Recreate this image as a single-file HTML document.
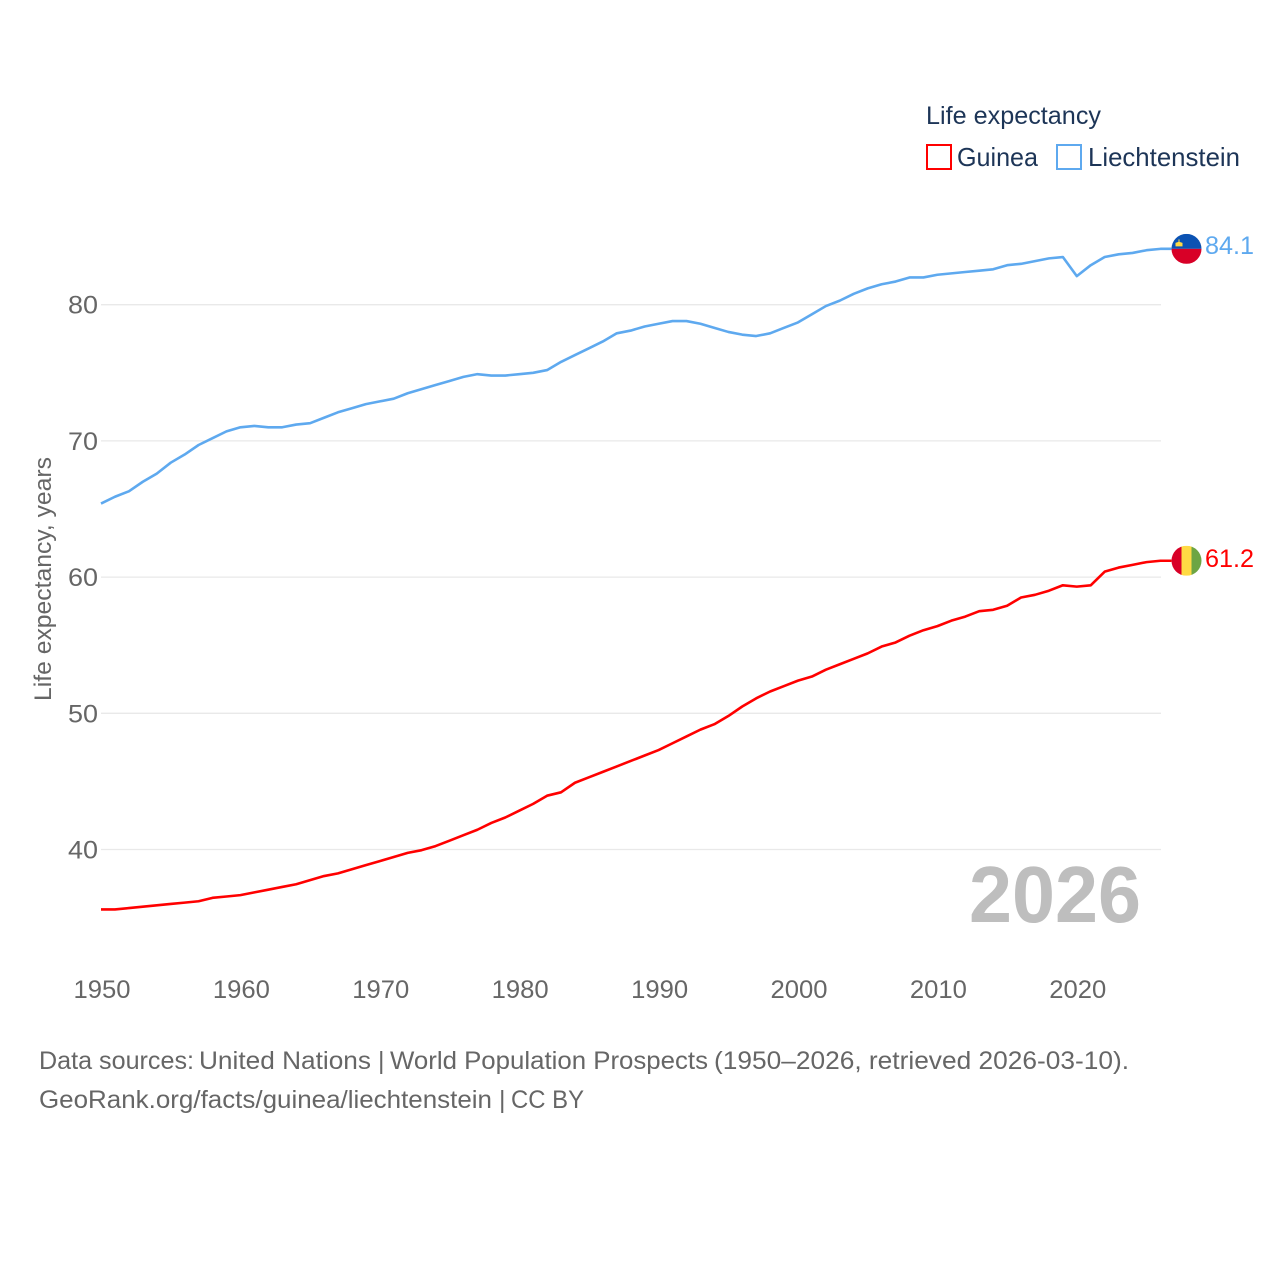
<!DOCTYPE html>
<html lang="en">
<head>
<meta charset="utf-8">
<title>Life expectancy: Guinea and Liechtenstein</title>
<style>
html,body{margin:0;padding:0;background:#fff;}
svg{display:block;}
text{font-family:"Liberation Sans",sans-serif;}
</style>
</head>
<body>
<svg id="chart" xmlns="http://www.w3.org/2000/svg" width="1280" height="1280" viewBox="0 0 1280 1280">
  <rect width="1280" height="1280" fill="#fff"/>
  <defs>
    <clipPath id="flag-clip"><circle cx="0" cy="0" r="15"/></clipPath>
  </defs>
  <g id="grid"></g>
  <g id="y-ticks"></g>
  <g id="x-ticks"></g>
  <text transform="translate(51,701) rotate(-90)" font-size="24" fill="#666" textLength="244" lengthAdjust="spacingAndGlyphs">Life expectancy, years</text>
  <g id="series"></g>
  <g id="end-markers"></g>
  <text x="969" y="922" font-size="80" font-weight="700" fill="#bebebe" textLength="172" lengthAdjust="spacingAndGlyphs">2026</text>
  <g>
    <text x="926" y="124" font-size="25" fill="#1d3557" textLength="175" lengthAdjust="spacingAndGlyphs">Life expectancy</text>
    <rect x="927" y="145" width="24" height="24" fill="none" stroke="#ff0000" stroke-width="2"/>
    <text x="957" y="166" font-size="26" fill="#1d3557" textLength="81" lengthAdjust="spacingAndGlyphs">Guinea</text>
    <rect x="1057" y="145" width="24" height="24" fill="none" stroke="#5ea9ef" stroke-width="2"/>
    <text x="1088" y="166" font-size="26" fill="#1d3557" textLength="152" lengthAdjust="spacingAndGlyphs">Liechtenstein</text>
  </g>
  <text y="1069" font-size="25" fill="#666"><tspan x="39" textLength="155" lengthAdjust="spacingAndGlyphs">Data sources:</tspan> <tspan x="199" textLength="172" lengthAdjust="spacingAndGlyphs">United Nations</tspan> <tspan x="378">|</tspan> <tspan x="390" textLength="318" lengthAdjust="spacingAndGlyphs">World Population Prospects</tspan> <tspan x="714" textLength="415" lengthAdjust="spacingAndGlyphs">(1950–2026, retrieved 2026-03-10).</tspan></text>
  <text y="1108" font-size="25" fill="#666"><tspan x="39" textLength="453" lengthAdjust="spacingAndGlyphs">GeoRank.org/facts/guinea/liechtenstein</tspan> <tspan x="499">|</tspan> <tspan x="511" textLength="73" lengthAdjust="spacingAndGlyphs">CC BY</tspan></text>
</svg>
<script>
const startYear = 1950;
const xTickLabels = [1950, 1960, 1970, 1980, 1990, 2000, 2010, 2020];
const yTickLabels = [40, 50, 60, 70, 80];
const guineaValues = [35.6,35.6,35.7,35.8,35.9,36.0,36.1,36.2,36.45,36.55,36.65,36.85,37.05,37.25,37.45,37.75,38.05,38.25,38.55,38.85,39.15,39.45,39.75,39.95,40.25,40.65,41.05,41.45,41.95,42.35,42.85,43.35,43.95,44.2,44.9,45.3,45.7,46.1,46.5,46.9,47.3,47.8,48.3,48.8,49.2,49.8,50.5,51.1,51.6,52.0,52.4,52.7,53.2,53.6,54.0,54.4,54.9,55.2,55.7,56.1,56.4,56.8,57.1,57.5,57.6,57.9,58.5,58.7,59.0,59.4,59.3,59.4,60.4,60.7,60.9,61.1,61.2];
const liechtensteinValues = [65.4,65.9,66.3,67.0,67.6,68.4,69.0,69.7,70.2,70.7,71.0,71.1,71.0,71.0,71.2,71.3,71.7,72.1,72.4,72.7,72.9,73.1,73.5,73.8,74.1,74.4,74.7,74.9,74.8,74.8,74.9,75.0,75.2,75.8,76.3,76.8,77.3,77.9,78.1,78.4,78.6,78.8,78.8,78.6,78.3,78.0,77.8,77.7,77.9,78.3,78.7,79.3,79.9,80.3,80.8,81.2,81.5,81.7,82.0,82.0,82.2,82.3,82.4,82.5,82.6,82.9,83.0,83.2,83.4,83.5,82.1,82.9,83.5,83.7,83.8,84.0,84.1];

const NS = 'http://www.w3.org/2000/svg';
function xScale(year) { return 101 + (year - 1950) * 13.94; }
function yScale(value) { return 849.5 - (value - 40) * 13.62; }
function make(tag, attrs, parent) {
  const el = document.createElementNS(NS, tag);
  for (const k in attrs) el.setAttribute(k, attrs[k]);
  parent.appendChild(el);
  return el;
}

const gridGroup = document.getElementById('grid');
const yGroup = document.getElementById('y-ticks');
const xGroup = document.getElementById('x-ticks');
const seriesGroup = document.getElementById('series');
const markerGroup = document.getElementById('end-markers');

yTickLabels.forEach(function (v) {
  const line = make('line', {x1: 101, x2: 1161, y1: yScale(v), y2: yScale(v), stroke: '#e9e9e9', 'stroke-width': 1.3}, gridGroup);
  
  
  const label = make('text', {x: 98, y: yScale(v) + 9, 'text-anchor': 'end', 'font-size': 25, fill: '#666', textLength: 30, lengthAdjust: 'spacingAndGlyphs'}, yGroup);
  
  
  label.textContent = v;
});

xTickLabels.forEach(function (y) {
  const label = make('text', {x: xScale(y) + 1, y: 998, 'text-anchor': 'middle', 'font-size': 25, fill: '#666', textLength: 57, lengthAdjust: 'spacingAndGlyphs'}, xGroup);
  
  
  label.textContent = y;
});

function drawSeries(values, color, name) {
  const pts = values.map(function (v, i) { return xScale(startYear + i).toFixed(2) + ',' + yScale(v).toFixed(2); });
  const lastX = xScale(startYear + values.length - 1);
  const lastY = yScale(values[values.length - 1]);
  pts.push((lastX + 11).toFixed(2) + ',' + lastY.toFixed(2));
  const line = make('polyline', {points: pts.join(' '), fill: 'none', stroke: color, 'stroke-width': 2.6, 'stroke-linejoin': 'round'}, seriesGroup);
  
  
  return lastY;
}

function drawEndLabel(value, y, color, name) {
  const label = make('text', {x: 1205, y: y + 5, 'font-size': 25, fill: color, textLength: 49, lengthAdjust: 'spacingAndGlyphs'}, markerGroup);
  
  
  label.textContent = value.toFixed(1);
}

function flagGroup(y, name) {
  const g = make('g', {transform: 'translate(1186.5,' + y + ')', 'clip-path': 'url(#flag-clip)'}, markerGroup);
  
  
  return g;
}

const guineaY = drawSeries(guineaValues, '#ff0000', 'guinea');
const liechY = drawSeries(liechtensteinValues, '#5ea9ef', 'liechtenstein');

const liFlag = flagGroup(liechY, 'liechtenstein');
make('rect', {x: -15, y: -15, width: 30, height: 15, fill: '#0b52b3'}, liFlag);
make('rect', {x: -15, y: 0, width: 30, height: 15, fill: '#d80027'}, liFlag);
make('path', {d: 'M-11,-2.5 L-11,-6 L-9.5,-6.5 L-8,-7 L-8,-9.5 L-7,-9.5 L-7,-7 L-5.5,-6.5 L-4,-6 L-4,-2.5 Z', fill: '#ffda44'}, liFlag);

const guFlag = flagGroup(guineaY, 'guinea');
make('rect', {x: -15, y: -15, width: 10, height: 30, fill: '#d80027'}, guFlag);
make('rect', {x: -5, y: -15, width: 10, height: 30, fill: '#ffda44'}, guFlag);
make('rect', {x: 5, y: -15, width: 10, height: 30, fill: '#6da544'}, guFlag);

drawEndLabel(liechtensteinValues[liechtensteinValues.length - 1], liechY + 0, '#5ea9ef', 'liechtenstein');
drawEndLabel(guineaValues[guineaValues.length - 1], guineaY + 1, '#ff0000', 'guinea');
</script>
</body>
</html>
